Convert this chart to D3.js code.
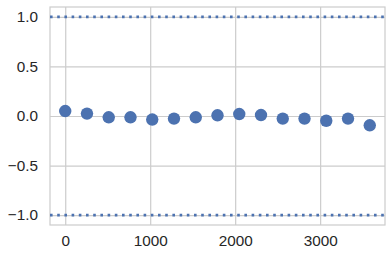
<!DOCTYPE html>
<html>
<head>
<meta charset="utf-8">
<script src="https://cdn.jsdelivr.net/npm/d3@7"></script>
<style>
  body { margin: 0; background: #fff; }
  .tick text { font-family: "Liberation Sans", Arial, sans-serif; font-size: 15.3px; fill: #262626; }
</style>
</head>
<body>
<div id="chart"></div>
<script>
// data
var lags = [0, 256, 512, 768, 1024, 1280, 1536, 1792, 2048, 2304, 2560, 2816, 3072, 3328, 3584];
var values = [0.05, 0.024, -0.013, -0.013, -0.036, -0.026, -0.013, 0.007, 0.02, 0.01, -0.026, -0.026, -0.048, -0.026, -0.094];
var refLines = [1, -1];
var xTicks = [0, 1000, 2000, 3000];
var yTicks = [-1.0, -0.5, 0.0, 0.5, 1.0];

var svgWidth = 392;
var svgHeight = 258;
var margin = { top: 7, right: 7, bottom: 33, left: 50 };
var width = svgWidth - margin.left - margin.right;
var height = svgHeight - margin.top - margin.bottom;
var blue = "#4c72b0";
var gridColor = "#cccccc";

var svg = d3.select("#chart").append("svg")
    .attr("width", svgWidth)
    .attr("height", svgHeight);

var g = svg.append("g")
    .attr("transform", `translate(${margin.left}, ${margin.top})`);

var x = d3.scaleLinear().domain([-179.2, 3763.2]).range([0, width]);
var y = d3.scaleLinear().domain([-1.1, 1.1]).range([height, 0]);

// grid lines
g.append("g")
    .attr("transform", `translate(0, ${height})`)
    .call(d3.axisBottom(x).tickValues(xTicks).tickSize(-height).tickFormat(""))
    .call(a => a.select(".domain").remove())
    .call(a => a.selectAll("line").attr("stroke", gridColor).attr("stroke-width", 1.2));

g.append("g")
    .call(d3.axisLeft(y).tickValues(yTicks).tickSize(-width).tickFormat(""))
    .call(a => a.select(".domain").remove())
    .call(a => a.selectAll("line").attr("stroke", gridColor).attr("stroke-width", 1.2));

// frame
g.append("rect")
    .attr("width", width)
    .attr("height", height)
    .attr("fill", "none")
    .attr("stroke", gridColor)
    .attr("stroke-width", 1.2);

// tick labels
g.append("g")
    .attr("transform", `translate(0, ${height})`)
    .call(d3.axisBottom(x).tickValues(xTicks).tickSize(0).tickPadding(10).tickFormat(d3.format("d")))
    .call(a => a.select(".domain").remove());

g.append("g")
    .call(d3.axisLeft(y).tickValues(yTicks).tickSize(0).tickPadding(12).tickFormat(d3.format(".1f")))
    .call(a => a.select(".domain").remove());

// dotted reference lines
g.selectAll(".ref")
    .data(refLines)
    .enter()
    .append("line")
    .attr("class", "ref")
    .attr("x1", 0)
    .attr("x2", width)
    .attr("y1", d => y(d))
    .attr("y2", d => y(d))
    .attr("stroke", blue)
    .attr("stroke-width", 2.6)
    .attr("stroke-dasharray", "2.6,4.6");

// points
g.selectAll("circle")
    .data(lags)
    .enter()
    .append("circle")
    .attr("cx", d => x(d))
    .attr("cy", (d, i) => y(values[i]))
    .attr("r", 6.2)
    .attr("fill", blue);
</script>
</body>
</html>
